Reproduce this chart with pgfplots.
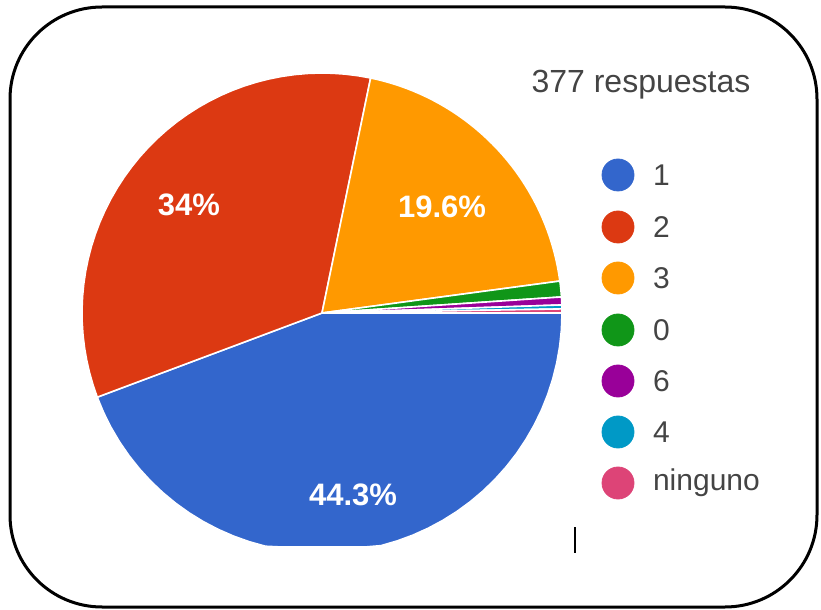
\documentclass[border=0pt]{standalone}
\usepackage{pgfplots}
\pgfplotsset{compat=1.18}
\usepackage{fontspec}
\setmainfont{Liberation Sans}

\definecolor{gblue}{HTML}{3366CC}
\definecolor{gred}{HTML}{DC3912}
\definecolor{gorange}{HTML}{FF9900}
\definecolor{ggreen}{HTML}{109618}
\definecolor{gpurple}{HTML}{990099}
\definecolor{gcyan}{HTML}{0099C6}
\definecolor{gpink}{HTML}{DD4477}
\definecolor{gtext}{HTML}{444444}

% answers per option (377 in total), in drawing order
\def\nA{167} % 1
\def\nB{128} % 2
\def\nC{74}  % 3
\def\nD{4}   % 0
\def\nE{2}   % 6
\def\nF{1}   % 4
\def\nG{1}   % ninguno
\pgfmathsetmacro{\tot}{\nA+\nB+\nC+\nD+\nE+\nF+\nG}
% cumulative angles, clockwise from 3 o'clock
\pgfmathsetmacro{\aA}{\nA/\tot*360}
\pgfmathsetmacro{\aB}{\aA+\nB/\tot*360}
\pgfmathsetmacro{\aC}{\aB+\nC/\tot*360}
\pgfmathsetmacro{\aD}{\aC+\nD/\tot*360}
\pgfmathsetmacro{\aE}{\aD+\nE/\tot*360}
\pgfmathsetmacro{\aF}{\aE+\nF/\tot*360}
\pgfmathsetmacro{\aG}{\aF+\nG/\tot*360}

% centre (322,313), radius 240 px, bottom cut at 547
\newcommand{\slice}[3]{%
  \addplot[fill=#3, draw=white, line width=0.8pt, line join=round,
    samples at={0,...,42}, variable=\t]
    ({ifthenelse(\t<0.5 || \t>41.5, 322, 322+240*cos(#1+(#2-#1)*(\t-1)/40))},
     {ifthenelse(\t<0.5 || \t>41.5, 313, min(547, 313+240*sin(#1+(#2-#1)*(\t-1)/40)))});
}
% legend entry: colour, row, label
\newcommand{\key}[3]{%
  \addplot[only marks, mark=*, mark size=8pt, color=#1] coordinates {(618,#2)};
  \node[gtext, anchor=west, font=\fontsize{15}{18}\selectfont] at (axis cs:646,#2) {#3};
}

\begin{document}
\begin{tikzpicture}
\begin{axis}[
    scale only axis,
    width=410.5pt, height=305pt,
    xmin=0, xmax=821, ymin=0, ymax=610,
    y dir=reverse,
    hide axis,
  ]
  \slice{0}{\aA}{gblue}
  \slice{\aA}{\aB}{gred}
  \slice{\aB}{\aC}{gorange}
  \slice{\aC}{\aD}{ggreen}
  \slice{\aD}{\aE}{gpurple}
  \slice{\aE}{\aF}{gcyan}
  \slice{\aF}{\aG}{gpink}

  \key{gblue}{175}{1}
  \key{gred}{227}{2}
  \key{gorange}{278}{3}
  \key{ggreen}{330}{0}
  \key{gpurple}{381}{6}
  \key{gcyan}{432}{4}
  \key{gpink}{483}{ninguno}

  \node[white, font=\bfseries\fontsize{15.5}{18}\selectfont] at (axis cs:189,205) {34\%};
  \node[white, font=\bfseries\fontsize{15.5}{18}\selectfont] at (axis cs:442,207) {19.6\%};
  \node[white, font=\bfseries\fontsize{15.5}{18}\selectfont] at (axis cs:353,495) {44.3\%};
  \node[gtext, font=\fontsize{16}{19}\selectfont] at (axis cs:641,85) {377 respuestas};

  \draw[line width=1pt] (axis cs:575,527) -- (axis cs:575,553);
  \draw[line width=1.5pt, rounded corners=46pt] (axis cs:10,7) rectangle (axis cs:817,607);
\end{axis}
\path (current axis.south west) rectangle (current axis.north east);
\end{tikzpicture}
\end{document}
